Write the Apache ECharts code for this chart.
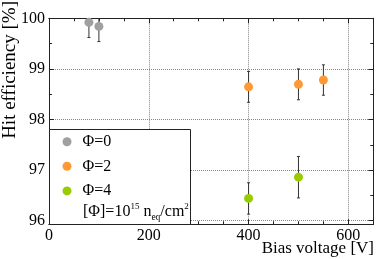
<!DOCTYPE html>
<html><head><meta charset="utf-8">
<script src="https://cdn.jsdelivr.net/npm/echarts@6/dist/echarts.min.js"></script>
<style>html,body{margin:0;padding:0;background:#fff}#c{width:382px;height:259px}</style>
</head><body><div id="c"></div>
<script>
const FONT = 'Liberation Serif';
// Data
const seriesNames = ['Φ=0', 'Φ=2', 'Φ=4'];
const voltage0 = [80, 100];
const eff0 = [99.92, 99.84];
const err0 = [0.30, 0.30];
const voltage2 = [400, 500, 550];
const eff2 = [98.645, 98.695, 98.78];
const err2 = [0.305, 0.305, 0.30];
const voltage4 = [400, 500];
const eff4 = [96.44, 96.86];
const err4 = [0.31, 0.41];
const colors = ['#a0a0a0', '#ff9933', '#99cc00'];
const xTitle = 'Bias voltage [V]';
const yTitle = 'Hit efficiency [%]';
const yRangeData = [95.93, 100];   // full visible range
const yRangeTicks = [96, 100];     // labelled range
const xRange = [0, 650];

const groups = [[voltage0, eff0, err0], [voltage2, eff2, err2], [voltage4, eff4, err4]];

const chart = echarts.init(document.getElementById('c'), null, {renderer: 'canvas'});
const axisCol = '#222';
const PXU = 50.6; // px per % unit
const TOP = 18.3;
const H0 = (yRangeData[1] - yRangeData[0]) * PXU;
const H1 = (yRangeTicks[1] - yRangeTicks[0]) * PXU;

function xAx(pos, interval, len, labels, split) {
  return {
    type: 'value', gridIndex: 0, position: pos, min: xRange[0], max: xRange[1], interval: interval,
    axisLine: {show: true, onZero: false, lineStyle: {color: axisCol, width: 1}},
    axisTick: {show: true, inside: true, length: len, lineStyle: {color: axisCol}},
    axisLabel: {show: labels, color: '#000', fontFamily: FONT, fontSize: 16, margin: 4,
      formatter: v => (v % 200 === 0 ? String(v) : '')},
    splitLine: {show: split, lineStyle: {color: '#888', type: 'dotted', width: 1}}
  };
}
function yLineAx(pos) {
  return {
    type: 'value', gridIndex: 0, position: pos, min: yRangeData[0], max: yRangeData[1],
    axisLine: {show: true, onZero: false, lineStyle: {color: axisCol, width: 1}},
    axisTick: {show: false}, axisLabel: {show: false}, splitLine: {show: false}
  };
}
function yTickAx(pos, interval, len, labels, split) {
  return {
    type: 'value', gridIndex: 1, position: pos, min: yRangeTicks[0], max: yRangeTicks[1], interval: interval,
    axisLine: {show: false},
    axisTick: {show: true, inside: true, length: len, lineStyle: {color: axisCol}},
    axisLabel: {show: labels, color: '#000', fontFamily: FONT, fontSize: 16, margin: 4,
      formatter: v => String(Math.round(v))},
    splitLine: {show: split, lineStyle: {color: '#888', type: 'dotted', width: 1}}
  };
}

const series = [];
groups.forEach((g, i) => {
  series.push({
    name: seriesNames[i], type: 'custom', xAxisIndex: 0, yAxisIndex: 0, clip: true, z: 3,
    data: g[0].map((x, k) => [x, g[1][k] - g[2][k], g[1][k] + g[2][k]]),
    renderItem: (params, api) => {
      const x = api.value(0), lo = api.value(1), hi = api.value(2);
      const p1 = api.coord([x, hi]), p2 = api.coord([x, lo]);
      const st = {stroke: '#333', lineWidth: 1};
      return {type: 'group', children: [
        {type: 'line', shape: {x1: p1[0], y1: p1[1], x2: p2[0], y2: p2[1]}, style: st},
        {type: 'line', shape: {x1: p1[0] - 1.5, y1: p1[1], x2: p1[0] + 1.5, y2: p1[1]}, style: st},
        {type: 'line', shape: {x1: p2[0] - 1.5, y1: p2[1], x2: p2[0] + 1.5, y2: p2[1]}, style: st}
      ]};
    },
    itemStyle: {color: colors[i]}
  });
  series.push({
    name: seriesNames[i], type: 'scatter', xAxisIndex: 0, yAxisIndex: 0, z: 4,
    symbol: 'circle', symbolSize: 9,
    itemStyle: {color: colors[i], opacity: 1},
    data: g[0].map((x, k) => [x, g[1][k]])
  });
});

chart.setOption({
  animation: false,
  backgroundColor: '#fff',
  grid: [
    {left: 49, top: TOP, right: 8.7, height: H0},
    {left: 49, top: TOP, right: 8.7, height: H1}
  ],
  xAxis: [xAx('bottom', 200, 5, true, true), xAx('bottom', 50, 3, false, false),
          xAx('top', 200, 5, false, false), xAx('top', 50, 3, false, false),
          {type: 'value', gridIndex: 1, min: xRange[0], max: xRange[1], show: false}],
  yAxis: [yLineAx('left'), yLineAx('right'),
          yTickAx('left', 1, 5, true, true), yTickAx('left', 0.5, 3, false, false),
          yTickAx('right', 1, 5, false, false), yTickAx('right', 0.5, 3, false, false)],
  legend: {
    data: seriesNames.map(n => ({name: n, icon: 'circle'})),
    orient: 'vertical', left: 62.5, top: 133.7, padding: 0,
    itemWidth: 21, itemHeight: 9, itemGap: 8.6, z: 20,
    textStyle: {fontFamily: FONT, fontSize: 16, lineHeight: 16, color: '#000'}
  },
  graphic: [
    {type: 'rect', z: 10, shape: {x: 49.5, y: 129.5, width: 141, height: 95},
     style: {fill: '#fff', stroke: axisCol, lineWidth: 1}},
    {type: 'text', z: 21, x: 83, y: 212,
     style: {text: '[Φ]=10{sup|15} n{sub|eq}/cm{sup|2}', fontFamily: FONT, fontSize: 16,
       fill: '#000', verticalAlign: 'middle', lineHeight: 20,
       rich: {sup: {fontSize: 9, verticalAlign: 'top', fontFamily: FONT, fill: '#000', lineHeight: 12},
              sub: {fontSize: 9.5, verticalAlign: 'bottom', fontFamily: FONT, fill: '#000', lineHeight: 12}}}},
    {type: 'text', z: 21, x: 374, y: 249,
     style: {text: xTitle, fontFamily: FONT, fontSize: 17, fill: '#000', align: 'right', verticalAlign: 'middle'}},
    {type: 'text', z: 21, x: 10, y: 1, rotation: Math.PI / 2,
     style: {text: yTitle, fontFamily: FONT, fontSize: 19, fill: '#000', align: 'right', verticalAlign: 'middle'}}
  ],
  series: series
});
</script></body></html>
